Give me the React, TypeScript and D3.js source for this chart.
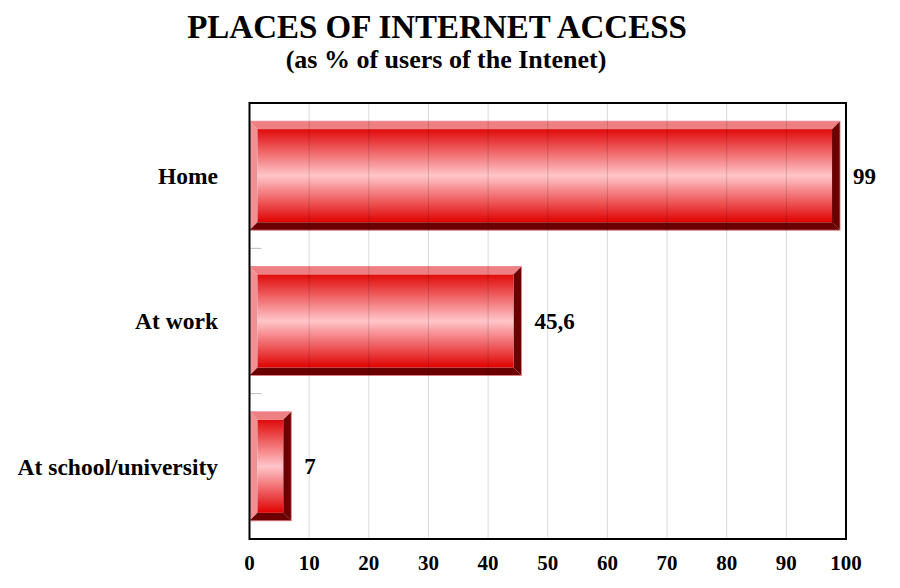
import React from "react";
import * as d3 from "d3";

const categories = ["Home", "At work", "At school/university"];
const values = [99, 45.6, 7];
const valueLabels = ["99", "45,6", "7"];
const xTicks = [0, 10, 20, 30, 40, 50, 60, 70, 80, 90, 100];
const title = "PLACES OF INTERNET ACCESS";
const subtitle = "(as % of users of the Intenet)";

export default function App() {
  const W = 900, H = 588;
  const left = 249.5, right = 846, top = 103, bottom = 539;
  const x = d3.scaleLinear().domain([0, 100]).range([left, right]);
  const y = d3.scaleBand<string>().domain(categories).range([top, bottom]).paddingInner(0.25).paddingOuter(0.125);
  const d = 8;
  const font = "'Liberation Serif', 'Times New Roman', serif";
  const step = y.step();

  return (
    <svg width={W} height={H} style={{ position: "absolute", left: 0, top: 0, background: "#fff" }}>
      <defs>
        <linearGradient id="face" x1="0" y1="0" x2="0" y2="1">
          <stop offset="0%" stopColor="#e10a0a" />
          <stop offset="50%" stopColor="#ffc6ca" />
          <stop offset="100%" stopColor="#e00202" />
        </linearGradient>
      </defs>
      <text x={437} y={38} textAnchor="middle" fontFamily={font} fontWeight="bold" fontSize={33}>{title}</text>
      <text x={446} y={68} textAnchor="middle" fontFamily={font} fontWeight="bold" fontSize={26}>{subtitle}</text>

      {categories.map((c, i) => {
        const x0 = x(0), x1 = x(values[i]);
        const y0 = y(c)!, y1 = y0 + y.bandwidth();
        const pts = (a: number[][]) => a.map(p => p.join(",")).join(" ");
        return (
          <g key={c}>
            <polygon points={pts([[x0, y0], [x1, y0], [x1 - d, y0 + d], [x0 + d, y0 + d]])} fill="#ee8084" />
            <polygon points={pts([[x0, y0], [x0 + d, y0 + d], [x0 + d, y1 - d], [x0, y1]])} fill="#f09094" />
            <polygon points={pts([[x0, y1], [x0 + d, y1 - d], [x1 - d, y1 - d], [x1, y1]])} fill="#6a0000" />
            <polygon points={pts([[x1, y0], [x1, y1], [x1 - d, y1 - d], [x1 - d, y0 + d]])} fill="#6a0000" />
            <rect x={x0 + d} y={y0 + d} width={Math.max(0, x1 - x0 - 2 * d)} height={y1 - y0 - 2 * d} fill="url(#face)" />
            <rect x={x0} y={y0} width={x1 - x0} height={y1 - y0} fill="none" stroke="#e88088" strokeWidth={0.8} />
          </g>
        );
      })}

      {xTicks.slice(1, -1).map(t => (
        <line key={t} x1={x(t)} x2={x(t)} y1={top} y2={bottom} stroke="rgba(0,0,0,0.15)" strokeWidth={1} />
      ))}
      {categories.slice(1).map((c, i) => {
        const yy = top + step * (i + 1);
        return <line key={c} x1={left} x2={left + 12} y1={yy} y2={yy} stroke="#bbb" strokeWidth={1} />;
      })}

      <rect x={left} y={top} width={right - left} height={bottom - top} fill="none" stroke="#000" strokeWidth={2} />

      {categories.map((c, i) => {
        const cy = y(c)! + y.bandwidth() / 2;
        return (
          <g key={c + "l"}>
            <text x={218} y={cy} dy="0.35em" textAnchor="end" fontFamily={font} fontWeight="bold" fontSize={23.5}>{c}</text>
            <text x={x(values[i]) + 13} y={cy} dy="0.35em" textAnchor="start" fontFamily={font} fontWeight="bold" fontSize={23}>{valueLabels[i]}</text>
          </g>
        );
      })}

      {xTicks.map(t => (
        <text key={t} x={x(t)} y={570} textAnchor="middle" fontFamily={font} fontWeight="bold" fontSize={21}>{t}</text>
      ))}
    </svg>
  );
}
